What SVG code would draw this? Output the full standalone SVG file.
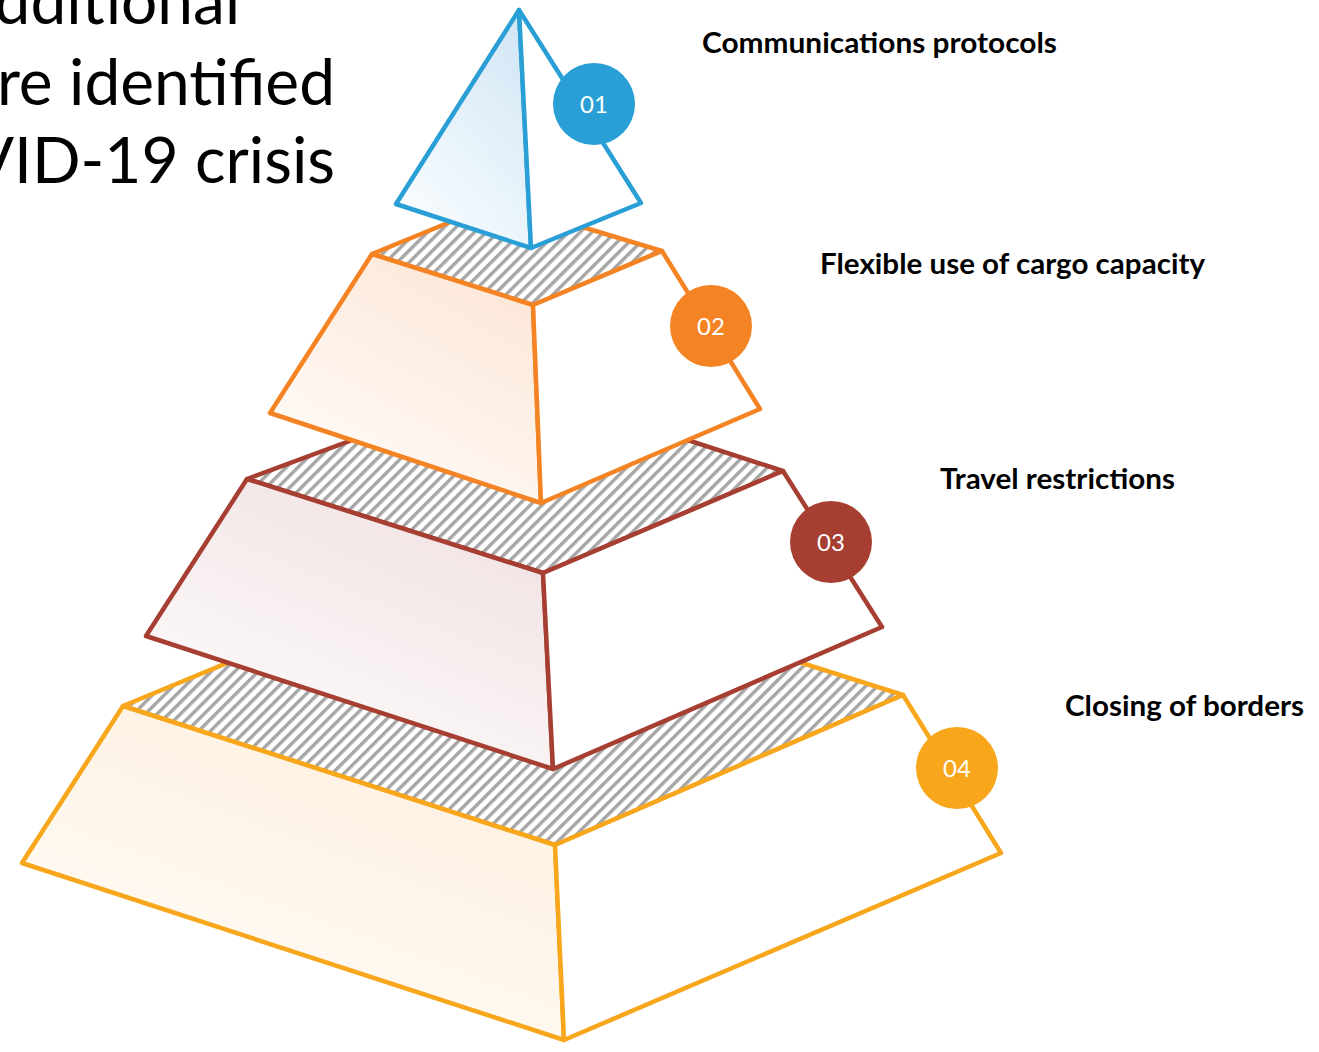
<svg xmlns="http://www.w3.org/2000/svg" width="1319" height="1052" viewBox="0 0 1319 1052">
<style>
.title{font-family:Lato,"Liberation Sans",sans-serif;font-size:64px;fill:#000}
.label{font-family:Lato,"Liberation Sans",sans-serif;font-size:28px;font-weight:bold;fill:#000}
.num{font-family:Lato,"Open Sans",sans-serif;font-size:24px;fill:#fff;text-anchor:middle}
.face{stroke-width:4.5;stroke-linejoin:round}
.hatch{fill:url(#hatch);stroke-width:4.5;stroke-linejoin:round}
</style>
<defs>
<pattern id="hatch" width="8.3" height="8.3" patternUnits="userSpaceOnUse" patternTransform="rotate(45)">
<rect width="8.3" height="8.3" fill="#fff"/>
<rect x="0" y="0" width="3.4" height="8.3" fill="#a6a6a6"/>
</pattern>
<linearGradient id="gBlue" x1="0.8" y1="0" x2="0.2" y2="1">
<stop offset="0" stop-color="#d3e7f5"/><stop offset="1" stop-color="#fafdff"/>
</linearGradient>
<linearGradient id="gOrange" x1="0.8" y1="0" x2="0.2" y2="1">
<stop offset="0" stop-color="#fce6d6"/><stop offset="1" stop-color="#fffdfb"/>
</linearGradient>
<linearGradient id="gRed" x1="0.8" y1="0" x2="0.2" y2="1">
<stop offset="0" stop-color="#f0e1e2"/><stop offset="1" stop-color="#fefcfc"/>
</linearGradient>
<linearGradient id="gYellow" x1="0.8" y1="0" x2="0.2" y2="1">
<stop offset="0" stop-color="#fdefdd"/><stop offset="1" stop-color="#fffdf9"/>
</linearGradient>
</defs>
<rect width="1319" height="1052" fill="#fff"/>

<g id="title">
<text class="title" x="240" y="24" text-anchor="end">dditional</text>
<text class="title" x="335" y="105" text-anchor="end">re identified</text>
<text class="title" x="335" y="183" text-anchor="end">VID-19 crisis</text>
</g>

<g id="tier4">
<polygon class="hatch" stroke="#f8a61b" points="123,706 476,560 903,695 555,845"/>
<polygon class="face" fill="url(#gYellow)" stroke="#f8a61b" points="123,706 555,845 564,1040 22,863"/>
<polygon class="face" fill="#fff" stroke="#f8a61b" points="555,845 903,695 1001,853 564,1040"/>
<circle cx="957" cy="768" r="41" fill="#f8a61b"/>
<text class="num" x="957" y="777">04</text>
</g>

<g id="tier3">
<polygon class="hatch" stroke="#a63f32" points="247,479 509,382 783,471 543,573"/>
<polygon class="face" fill="url(#gRed)" stroke="#a63f32" points="247,479 543,573 553,769 146,636"/>
<polygon class="face" fill="#fff" stroke="#a63f32" points="543,573 783,471 882,627 553,769"/>
<circle cx="831" cy="542" r="41" fill="#a63f32"/>
<text class="num" x="831" y="551">03</text>
</g>

<g id="tier2">
<polygon class="hatch" stroke="#f48423" points="372,254 499,202 662,251 533,305"/>
<polygon class="face" fill="url(#gOrange)" stroke="#f48423" points="372,254 533,305 541,503 270,413"/>
<polygon class="face" fill="#fff" stroke="#f48423" points="533,305 662,251 760,409 541,503"/>
<circle cx="711" cy="326" r="41" fill="#f48423"/>
<text class="num" x="711" y="335">02</text>
</g>

<g id="tier1">
<polygon class="face" fill="url(#gBlue)" stroke="#2a9fd6" points="519,10 531,248 396,204"/>
<polygon class="face" fill="#fff" stroke="#2a9fd6" points="519,10 641,203 531,248"/>
<circle cx="594" cy="104" r="41" fill="#2a9fd6"/>
<text class="num" x="594" y="113">01</text>
</g>

<g id="labels">
<text class="label" x="702" y="53" textLength="355" lengthAdjust="spacingAndGlyphs">Communications protocols</text>
<text class="label" x="820" y="274" textLength="385" lengthAdjust="spacingAndGlyphs">Flexible use of cargo capacity</text>
<text class="label" x="940" y="489" textLength="235" lengthAdjust="spacingAndGlyphs">Travel restrictions</text>
<text class="label" x="1065" y="716" textLength="239" lengthAdjust="spacingAndGlyphs">Closing of borders</text>
</g>
</svg>
